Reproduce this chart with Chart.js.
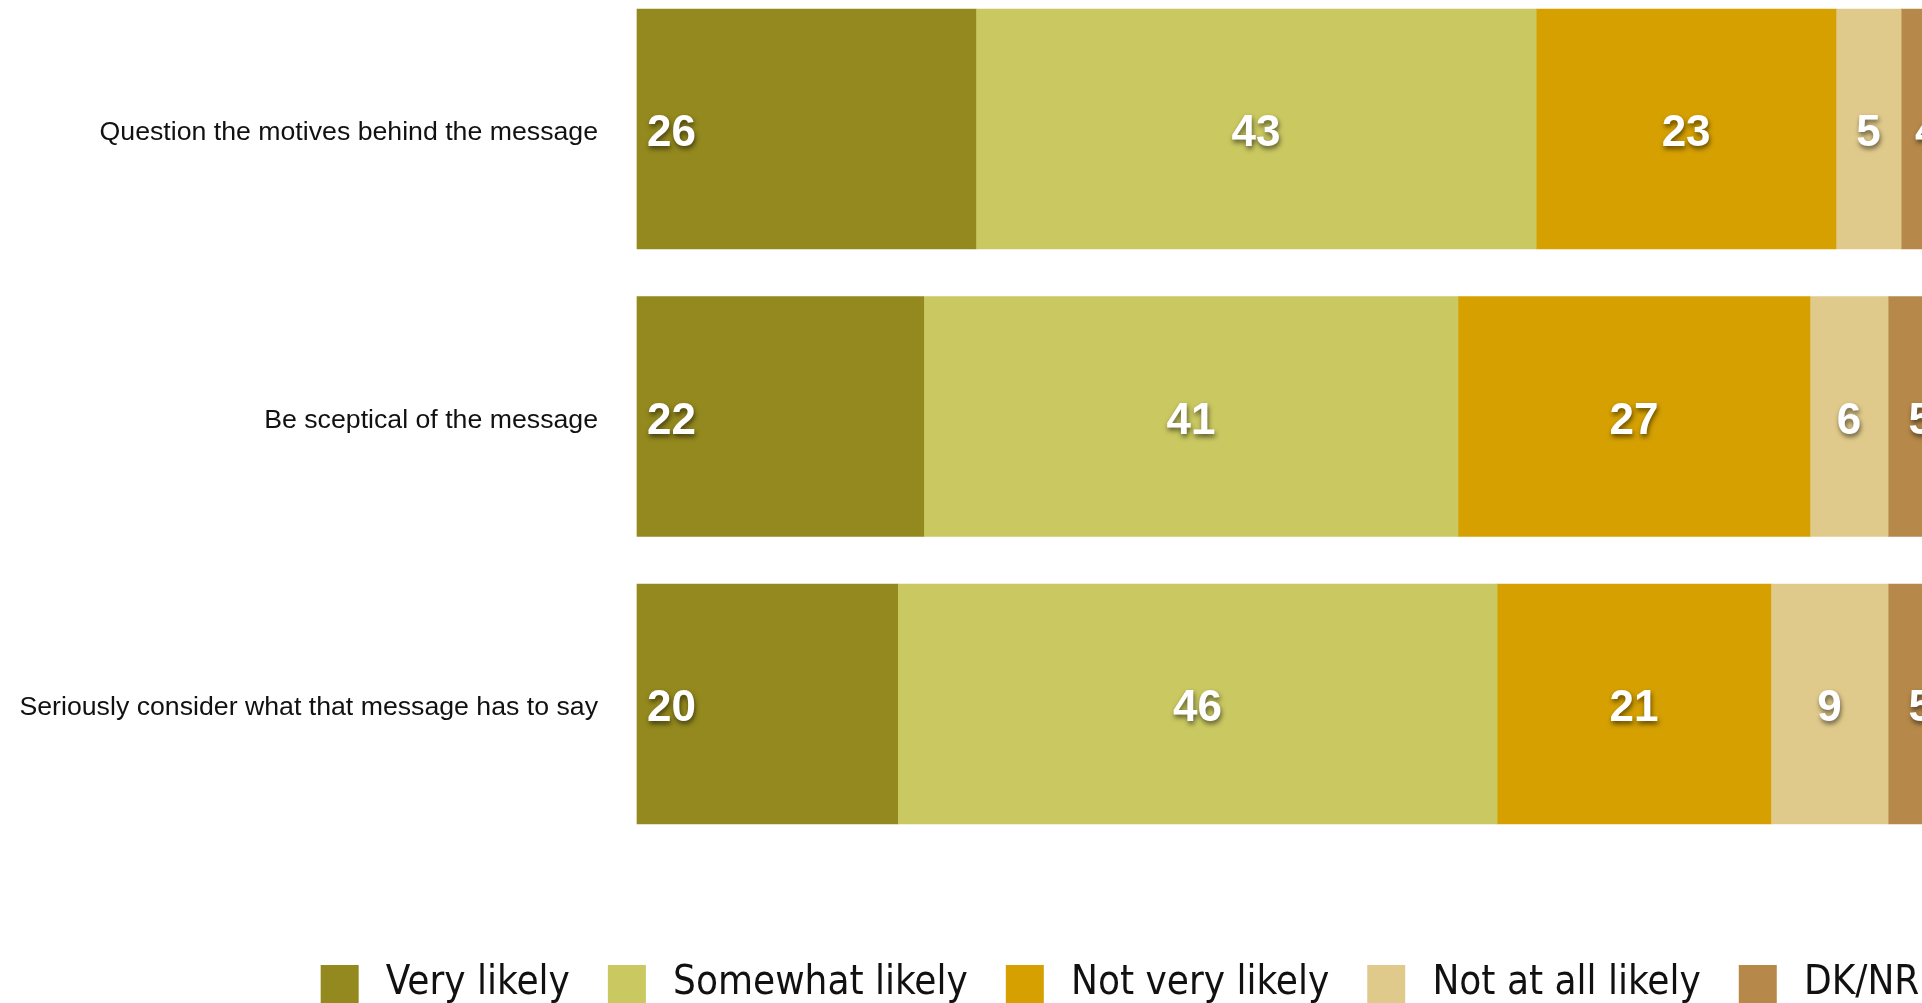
<!DOCTYPE html>
<html>
<head>
<meta charset="utf-8">
<title>Likely reaction to the message</title>
<script src="https://cdn.jsdelivr.net/npm/chart.js@4/dist/chart.umd.min.js"></script>
<style>
  html, body { margin: 0; padding: 0; background: #ffffff; overflow: hidden; }
  #wrap { position: absolute; left: 0; top: 0; }
  canvas { display: block; }
</style>
</head>
<body>
<div id="wrap"><canvas id="chart" width="2240" height="1014"></canvas></div>
<script>
// Survey statements (one bar each)
const statements = [
  'Question the motives behind the message',
  'Be sceptical of the message',
  'Seriously consider what that message has to say'
];

// Response categories, in stacking order
const responses = ['Very likely', 'Somewhat likely', 'Not very likely', 'Not at all likely', 'DK/NR'];

// Percentages per response, one value per statement
const veryLikely      = [26, 22, 20];
const somewhatLikely  = [43, 41, 46];
const notVeryLikely   = [23, 27, 21];
const notAtAllLikely  = [5, 6, 9];
const dkNr            = [4, 5, 5];

const seriesValues = [veryLikely, somewhatLikely, notVeryLikely, notAtAllLikely, dkNr];
const seriesColors = ['#94891e', '#c9c861', '#d5a000', '#e0ca8b', '#b6894a'];

// Upper end of the percentage axis
const xMax = 123;

// White value labels with a soft drop shadow, drawn on each segment
const valueLabels = {
  id: 'valueLabels',
  afterDatasetsDraw(chart) {
    const ctx = chart.ctx;
    ctx.save();
    ctx.font = 'bold 44px "Liberation Sans", Arial, Helvetica, sans-serif';
    ctx.fillStyle = '#ffffff';
    ctx.textBaseline = 'middle';
    ctx.shadowColor = 'rgba(0,0,0,0.55)';
    ctx.shadowOffsetX = 1;
    ctx.shadowOffsetY = 3;
    ctx.shadowBlur = 5;
    chart.data.datasets.forEach((ds, di) => {
      const meta = chart.getDatasetMeta(di);
      meta.data.forEach((bar, i) => {
        const v = ds.data[i];
        const left = Math.min(bar.x, bar.base);
        const right = Math.max(bar.x, bar.base);
        if (di === 0) {
          ctx.textAlign = 'left';
          ctx.fillText(String(v), left + 10, bar.y + 5);
        } else {
          ctx.textAlign = 'center';
          ctx.fillText(String(v), (left + right) / 2, bar.y + 5);
        }
      });
    });
    ctx.restore();
  }
};

new Chart(document.getElementById('chart'), {
  type: 'bar',
  data: {
    labels: statements,
    datasets: responses.map((name, k) => ({
      label: name,
      data: seriesValues[k],
      backgroundColor: seriesColors[k],
      borderWidth: 0,
      barThickness: 240,
      clip: false
    }))
  },
  options: {
    indexAxis: 'y',
    responsive: false,
    animation: false,
    events: [],
    layout: { padding: { top: 129, left: 0, right: 0, bottom: 0 } },
    scales: {
      x: {
        stacked: true,
        min: 0,
        max: xMax,
        display: true,
        grid: { display: false },
        border: { display: false },
        ticks: { display: false },
        afterFit(scale) { scale.height = 222; }
      },
      y: {
        stacked: true,
        offset: false,
        grid: { display: false, drawTicks: false },
        border: { display: false },
        ticks: {
          padding: 39,
          labelOffset: 4,
          color: '#111111',
          font: { family: '"Liberation Sans", Arial, Helvetica, sans-serif', size: 26.7 }
        },
        afterFit(scale) { scale.width = 637; }
      }
    },
    plugins: {
      tooltip: { enabled: false },
      legend: {
        position: 'bottom',
        align: 'center',
        labels: {
          boxWidth: 38,
          boxHeight: 38,
          padding: 38,
          color: '#111111',
          font: { family: '"DejaVu Sans Condensed", "DejaVu Sans", sans-serif', size: 40 },
          // a thin space keeps the text a little further from its swatch
          generateLabels(chart) {
            return Chart.defaults.plugins.legend.labels.generateLabels(chart)
              .map(item => Object.assign(item, { text: '\u2009' + item.text }));
          }
        }
      }
    }
  },
  plugins: [valueLabels]
});
</script>
</body>
</html>
